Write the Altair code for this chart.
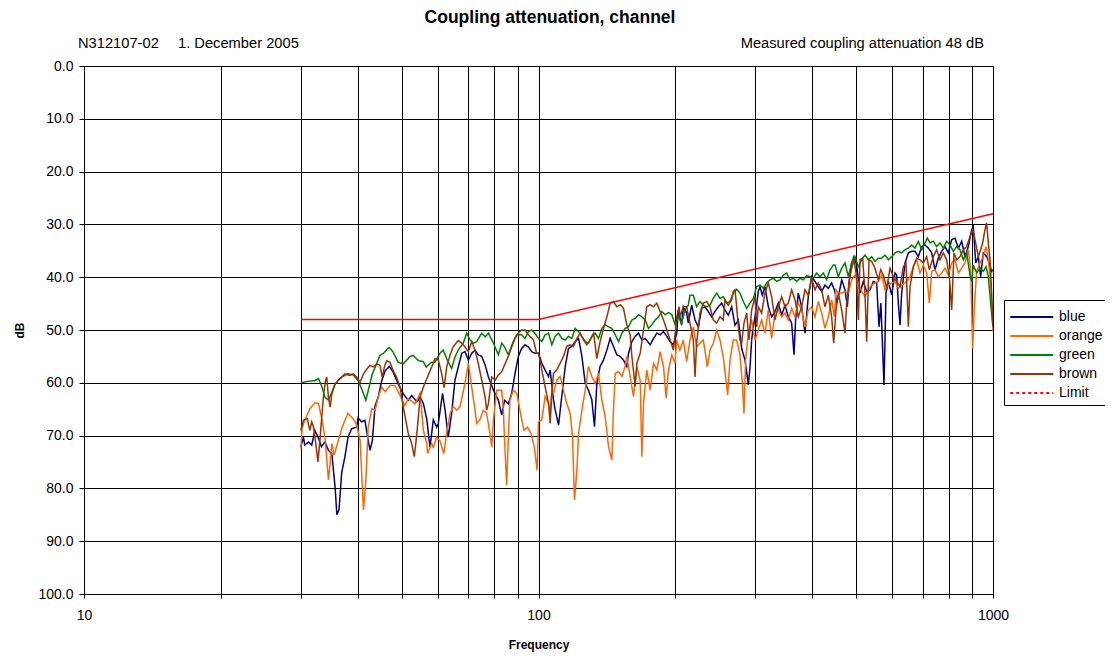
import altair as alt
import pandas as pd

# ---------------- data (frequency MHz, attenuation dB) ----------------
blue = [(30.0,72.1),(30.4,70.3),(30.6,71.8),(31.2,71.2),(31.7,71.8),(32.2,69),(32.8,70.5),(33.3,72.1),(33.9,71.2),(34.5,72.8),
        (35.1,73.4),(35.7,80),(36.0,85),(36.4,84),(36.9,77),(37.5,74),(38.1,70.3),(38.8,68.7),(39.8,68.4),(40.1,66.6),
        (40.8,67.4),(41.5,67.1),(42.2,70.9),(42.6,72.8),(43.1,70.9),(43.7,64.3),(44.4,62.7),(45.2,59.6),(46.0,57.7),(47.0,56.9),
        (47.9,58),(49.1,60.2),(50.4,62.1),(51.7,63.3),(52.6,62.4),(54.0,63.6),(54.9,62.7),(55.8,63.9),(56.8,67),(57.7,72.2),
        (58.7,67),(59.7,68.4),(60.2,67.7),(61.5,62),(62.3,65.2),(63.3,70.3),(64.4,65.8),(65.5,59.5),(66.6,57),(67.8,54.4),
        (68.9,54.1),(70.1,55.7),(71.3,54.4),(72.5,53.8),(73.7,54.7),(75.0,55),(76.3,56.6),(77.6,58.9),(79.6,61.4),(81.6,63.3),
        (83.0,66.1),(84.2,63.3),(85.8,64),(87.3,62),(88.8,58.2),(90.3,55),(91.8,53.5),(93.4,52.8),(95.0,53.2),(96.6,54.1),
        (98.2,54.4),(100.0,54.4),(101.7,56.3),(103.4,57.6),(105.2,58.8),(106.1,57.6),(107.9,63.2),(108.8,65.1),(110.7,68),(112.5,62.6),
        (114.5,56.9),(116.4,53.5),(118.4,53.1),(120.4,52.2),(122.5,51.6),(124.6,55),(126.7,60.1),(128.8,61.4),(131.0,63.2),(132.8,68.3),
        (134.4,60.1),(136.6,56.9),(139.0,55.7),(141.4,53.8),(143.8,51.6),(146.2,53.1),(148.7,54.7),(151.3,55),(153.8,55.7),(156.4,56.9),
        (157.8,54.4),(160.5,52.2),(163.2,51.2),(166.0,50.6),(168.8,51.9),(171.7,51.6),(176.1,52.8),(179.1,51.6),(182.1,50.6),(185.2,50.9),
        (188.4,50.3),(191.6,51.2),(194.8,52.2),(198.1,52.8),(201.5,50.6),(203.0,46.2),(206.5,49.1),(208.3,45.6),(211.8,46.8),(213.6,48.7),
        (217.3,45.3),(221.0,48.1),(224.7,49.4),(228.6,45.9),(232.5,45.6),(236.4,46.5),(240.4,47.5),(244.5,46.5),(248.7,45.6),(252.9,44.9),
        (257.2,46.2),(261.6,47.2),(266.1,45.6),(270.6,49.1),(275.2,48.1),(279.9,53.5),(284.7,55.7),(289.5,60.4),(292.0,57),(294.4,51.9),
        (297.0,49.4),(299.5,47.5),(304.5,42.7),(307.1,41.8),(310.8,43.4),(315.0,41.8),(320.4,45.6),(325.8,47.5),(331.4,46.5),(337.0,44.9),
        (342.8,47.2),(348.6,45.3),(354.5,47.5),(360.6,48.7),(364.9,54.7),(367.9,48.1),(372.9,43),(379.3,45.6),(385.8,50.6),(392.3,43.7),
        (399.0,39.9),(405.8,40.8),(412.7,41.8),(419.8,42.7),(426.9,41.5),(434.2,42.1),(441.6,41.1),(449.1,42.7),(453.0,44.9),(456.8,43.7),
        (464.6,40.5),(472.5,42.4),(478.1,45.6),(483.0,40.5),(488.7,37.3),(494.5,36.1),(501.2,37.7),(509.8,43),(518.4,40.8),(527.3,42.7),
        (536.3,42.4),(545.4,40.8),(554.7,41.1),(561.3,49.4),(566.6,44.9),(575.7,60.4),(581.6,43),(588.5,40.8),(598.5,43.4),(608.7,39.2),
        (613.8,39.6),(619.0,44.9),(624.3,49.1),(629.6,43),(640.3,37.3),(651.2,35.4),(662.4,35.1),(673.6,35.1),(685.1,36.1),(696.8,34.2),
        (708.6,33.9),(720.7,34.5),(733.0,35.4),(745.4,38.6),(758.0,36.4),(771.0,35.1),(784.1,34.2),(797.5,35.4),(811.1,32.9),(824.8,32.6),
        (839.0,34.5),(853.3,33.2),(867.8,36.1),(882.5,34.2),(897.6,31),(905.2,30.4),(916.0,37.3),(928.4,36.1),(939.5,39.9),(952.1,35.4),
        (968.3,36.1),(981.5,37.3),(992.8,38.9),(1000.0,38.6)]

orange = [(30.0,72.5),(30.2,68.5),(30.6,67.1),(31.4,64.9),(32.2,63.8),(32.8,63.9),(33.3,66.5),(33.9,70.3),(34.5,78.4),(34.8,75.3),
          (35.1,71.5),(35.5,73.7),(36.0,71.9),(36.9,68.7),(37.5,67.1),(38.1,65.8),(39.1,66.8),(39.8,68),(40.5,70.9),(40.8,76.5),
          (41.2,84.1),(41.7,78.5),(42.2,68.4),(43.0,64.9),(43.7,65.2),(44.4,62.7),(45.2,60.8),(46.0,61.7),(47.1,60.5),(48.3,60.5),
          (49.6,62.4),(50.8,64.3),(51.7,63),(53.5,64),(54.9,62),(55.8,69),(56.8,71.5),(57.0,73.4),(58.2,71.5),(58.7,72.2),
          (59.7,70.3),(60.7,71),(61.9,73.4),(62.8,69.5),(63.9,65.8),(64.9,64.5),(66.1,65.2),(67.2,64.5),(68.9,60.1),(70.1,56.3),
          (71.3,60.8),(72.5,65.2),(73.1,67.7),(74.3,67),(75.6,65.2),(76.9,65.8),(78.2,69.6),(78.9,72.2),(79.6,67),(80.9,61.4),
          (83.0,61.4),(83.7,65.2),(84.2,70.9),(85.1,79.4),(85.8,70.9),(86.5,63.3),(88.0,61.4),(89.6,62),(91.3,65.8),(92.9,69),
          (94.5,68.4),(96.3,69.6),(97.9,72.2),(99.3,76.6),(100.0,67.4),(101.7,67),(103.4,62.6),(105.2,63.9),(106.1,65.8),(107.0,61.4),
          (107.9,62),(109.7,59.5),(111.6,58.8),(113.5,61.4),(115.4,63.9),(117.4,65.8),(118.8,70.2),(120.0,82.2),(121.5,76.5),(122.5,69.6),
          (124.6,65.1),(126.7,61.4),(128.8,56.9),(131.0,58.8),(133.3,60.1),(135.5,58.2),(137.8,63.2),(140.2,66.4),(142.6,72.1),(145.0,74.6),
          (146.2,65.1),(147.5,58.2),(150.0,57.9),(152.6,58.8),(155.1,56.9),(156.4,55),(159.1,58.8),(161.8,62.6),(164.6,56.9),(167.4,59.5),
          (168.8,74),(170.2,63.9),(173.1,57.6),(176.1,61.4),(179.1,56.3),(182.1,57.6),(185.2,54.1),(188.4,56.9),(190.9,62.9),(193.2,57.6),
          (196.5,54.7),(199.8,56.3),(201.3,51.9),(204.7,53.8),(208.3,51.9),(211.8,56),(215.4,51.9),(219.1,49.4),(222.8,53.2),(226.6,52.5),
          (230.5,51.9),(235.2,57),(238.4,53.8),(242.4,52.5),(246.6,50),(250.8,51.9),(255.0,55.1),(258.5,59.5),(260.7,62.3),(263.8,55.7),
          (268.3,51.9),(272.9,51.9),(277.5,54.7),(280.9,60.1),(283.2,65.8),(285.6,55.7),(289.5,50.6),(294.4,48.1),(299.5,51.9),(304.5,50),
          (309.7,48.1),(315.0,50.6),(320.4,46.2),(325.8,51.6),(331.4,46.8),(337.0,46.2),(342.8,47.5),(348.6,46.8),(354.5,48.1),(360.6,45.9),
          (366.7,47.5),(372.9,44.9),(379.3,46.2),(385.8,49.4),(392.3,46.2),(399.0,45.6),(405.8,47.5),(412.7,44.6),(419.8,46.8),(426.9,49.7),
          (434.2,47.5),(441.6,44.3),(447.6,47.5),(451.4,42.4),(456.8,43),(464.6,43),(472.5,42.7),(480.5,43),(488.7,40.5),(497.0,39.6),
          (505.5,41.1),(514.1,42.7),(522.8,43.7),(531.8,42.4),(540.8,41.5),(550.0,41.1),(559.4,40.8),(569.0,39.6),(578.6,42.4),(588.5,41.5),
          (598.5,41.1),(608.7,40.8),(619.0,42.1),(629.6,41.5),(645.7,40.8),(656.8,39.9),(668.0,38),(679.3,36.7),(690.9,39.2),(702.7,37.7),
          (714.5,39.2),(724.4,44.9),(733.0,38.9),(745.4,38.6),(758.0,39.9),(771.0,39.2),(784.1,38.3),(797.5,39.6),(811.1,37.3),(824.8,36.7),
          (839.0,39.2),(853.3,38.3),(867.8,37.3),(882.5,34.8),(893.1,38.6),(902.2,53.5),(909.7,45.6),(920.5,38.9),(936.4,37.3),(952.1,36.1),
          (965.1,34.2),(976.6,36.7),(988.2,41.1),(1000.0,50.3)]

green = [(30.0,60),(31.2,59.7),(32.2,59.6),(32.8,59.2),(33.3,60.5),(33.9,62.7),(34.5,63.3),(35.7,60.2),(36.9,58.9),(38.1,58.3),
         (39.1,58.5),(40.1,59.6),(40.8,61.1),(41.7,63.3),(43.1,58.3),(44.8,54.8),(45.6,54.4),(46.9,53.3),(47.9,54.2),(49.1,56.1),
         (50.4,56.4),(52.2,55),(53.0,54.8),(54.4,55.8),(55.8,56),(56.6,57),(58.2,56.1),(59.2,56.1),(60.7,54.4),(61.7,53.8),
         (62.8,55.4),(64.4,57.3),(65.5,55.1),(66.6,53.8),(68.3,52.5),(69.5,50.6),(70.7,51.9),(71.9,52.5),(73.1,52.2),(75.0,50.6),
         (76.3,51.3),(77.6,50.6),(79.6,52.5),(81.6,54.7),(83.0,52.5),(84.2,53.2),(85.8,54.7),(88.0,52.2),(89.6,50.9),(91.8,50.9),
         (93.4,51.6),(95.0,50.3),(96.6,50),(98.2,50.6),(100.0,51.6),(101.7,52.2),(103.4,50.9),(105.2,50.6),(107.0,52.8),(108.8,51.2),
         (110.7,50.6),(112.5,51.6),(114.5,51.9),(116.4,51.2),(118.4,51.6),(120.4,49.7),(122.5,50.3),(124.6,51.2),(126.7,52.2),(128.8,52.5),
         (131.0,51.2),(133.3,50.6),(135.5,51.6),(137.8,49.7),(140.2,49),(142.6,49.4),(145.0,49.7),(147.5,50.9),(150.0,52.2),(152.6,50.6),
         (155.1,49.7),(157.8,49.4),(160.5,48.1),(163.2,47.8),(166.0,47.1),(168.8,47.5),(171.7,48.1),(174.6,49.7),(177.6,49),(180.6,48.1),
         (183.7,47.5),(186.8,46.5),(190.0,47.1),(193.2,46.7),(196.5,47.1),(199.8,49),(203.0,47.5),(206.5,48.7),(210.1,46.2),(213.6,45.3),
         (215.4,43.4),(219.1,43.4),(222.8,45.6),(226.6,44.6),(230.5,45.3),(234.4,45.6),(238.4,45.3),(242.4,44),(246.6,43),(250.8,44),
         (255.0,43.7),(259.4,44.9),(263.8,44.6),(268.3,43),(272.9,42.3),(277.5,43),(282.3,44.6),(287.1,45.9),(292.0,44.9),(297.0,44),
         (302.0,41.8),(307.1,41.5),(312.3,42.1),(317.7,41.1),(323.1,40.5),(328.6,40.2),(334.2,40.8),(339.9,40.5),(345.7,39.6),(351.5,39.2),
         (357.5,40.5),(363.6,40.2),(369.8,40.8),(376.1,40.2),(382.5,40.5),(389.0,39.7),(395.6,39.9),(402.4,40.2),(409.2,39.2),(416.2,39.9),
         (423.3,39.2),(430.5,40.5),(437.9,38.6),(445.3,37.7),(449.1,37.7),(456.8,39.9),(464.6,38.3),(472.5,37.3),(480.5,39.9),(488.7,37.3),
         (497.0,36.1),(505.5,38),(514.1,36.7),(522.8,35.8),(531.8,36.7),(540.8,36.1),(550.0,37),(559.4,36.4),(569.0,36.4),(578.6,35.8),
         (588.5,36.7),(598.5,36.1),(608.7,35.4),(619.0,35.1),(629.6,35.4),(640.3,34.8),(651.2,34.5),(662.4,33.9),(673.6,34.5),(685.1,33.2),
         (696.8,34.8),(708.6,33.5),(717.0,32.6),(726.9,33.5),(739.2,33.2),(751.6,34.2),(764.5,33.5),(777.5,34.5),(790.7,33.2),(804.3,33.9),
         (817.9,35.1),(831.8,34.2),(846.1,34.8),(860.5,36.7),(875.0,35.4),(890.1,39.6),(897.6,40.8),(905.2,37.7),(920.5,39.2),(936.4,38.3),
         (952.1,38.9),(965.1,38),(976.6,39.9),(988.2,44.9),(1000.0,49.4)]

brown = [(30.0,69),(30.4,67.1),(31.0,66.8),(31.4,69),(31.7,67.4),(32.0,68.4),(32.5,72.8),(32.7,75),(33.0,71.5),(33.4,65.8),
         (33.7,61.8),(34.0,59.6),(34.2,58.9),(34.5,62.7),(34.8,64.6),(35.1,62.1),(35.7,60.2),(36.2,59.6),(36.9,58.9),(37.5,58.3),
         (38.4,58.6),(39.1,58.3),(39.8,58.9),(40.5,59.9),(41.2,58.3),(41.9,57.4),(42.6,56.7),(43.3,57),(44.1,56.4),(44.8,56.7),
         (45.3,58.9),(45.9,56.7),(46.4,55.8),(47.1,56.1),(47.9,57.7),(48.7,58.9),(49.6,60.8),(50.4,64.6),(51.7,69.6),(52.6,71.5),
         (53.3,74),(54.0,69.6),(54.9,62.7),(55.8,60.8),(56.8,59.2),(58.2,57),(59.2,55.4),(60.2,55.7),(61.2,58.2),(62.0,60.9),
         (62.8,57),(63.9,54.7),(64.9,53.2),(66.6,52),(67.8,52.5),(68.9,53.2),(70.1,54.1),(71.3,52.2),(72.5,53.8),(73.7,56.3),
         (75.0,59.5),(76.3,62.7),(76.9,65.2),(77.6,63.9),(78.9,58.9),(80.3,59.5),(81.6,58.5),(83.0,57.9),(84.2,56.6),(85.8,55),
         (87.3,53.2),(88.8,51.6),(90.3,50.6),(91.8,50),(93.4,50),(95.0,50.9),(97.5,51.9),(99.0,54.4),(100.0,54.4),(101.7,57.6),
         (103.4,60.7),(105.2,63.9),(106.1,67.7),(107.0,62),(107.9,58.2),(109.7,57.6),(111.6,56.3),(113.5,55),(115.4,53.1),(117.4,52.8),
         (119.4,53.1),(121.5,51.6),(123.5,50.6),(125.6,51.9),(127.7,52.8),(129.9,51.9),(132.2,50.6),(134.4,55.4),(136.6,52.2),(139.0,49.7),
         (141.4,47.5),(143.8,44.9),(146.2,44.6),(148.7,45.6),(151.3,45.2),(153.8,45.9),(156.4,49),(159.1,50.9),(160.5,55),(163.2,60.7),
         (164.6,56.3),(167.4,54.4),(170.2,50),(173.1,45.6),(176.1,45.2),(179.1,45.6),(182.1,44.9),(185.2,46.5),(188.4,48.1),(191.6,50),
         (194.8,51.9),(198.1,53.8),(201.5,47.5),(203.9,45.6),(204.7,47.5),(208.3,45.6),(211.8,45.6),(215.4,48.7),(219.1,51.9),(221.0,58.9),
         (222.8,52.5),(226.6,46.8),(230.5,44.9),(234.4,44.6),(238.4,45.6),(242.4,48.1),(246.6,48.7),(250.8,47.5),(255.0,48.1),(257.2,44.3),
         (261.6,45.3),(266.1,44.3),(268.3,42.7),(270.6,42.4),(272.9,45.6),(275.2,49.4),(277.5,51.9),(279.9,52.5),(283.2,48.7),(287.1,46.8),
         (290.5,51.9),(294.4,46.2),(299.5,43.7),(302.0,49.4),(304.5,45.6),(309.7,46.8),(315.0,43),(320.4,41.1),(325.8,43.7),(331.4,48.1),
         (337.0,45.6),(342.8,43.7),(348.6,45.6),(354.5,44.9),(360.6,42.4),(366.7,44.3),(372.9,47.5),(379.3,45.6),(385.8,42.4),(392.3,43.4),
         (399.0,40.2),(405.8,42.4),(412.7,41.1),(419.8,42.4),(426.9,45.6),(434.2,43.4),(441.6,47.5),(446.1,52.5),(451.4,46.2),(456.8,43),
         (464.6,46.2),(472.5,50.6),(476.5,44.9),(483.0,40.5),(488.7,38.3),(494.5,36.7),(501.2,39.9),(505.5,48.1),(509.8,36.7),(516.7,36.4),
         (522.8,43),(527.3,52.2),(533.6,36.7),(540.8,37),(550.0,38.3),(559.4,40.5),(566.1,38.6),(573.8,39.6),(583.5,42.1),(593.5,38.3),
         (603.6,39.9),(613.8,40.8),(624.3,41.8),(634.9,38),(643.5,37.3),(651.2,49.4),(656.8,41.8),(668.0,38),(679.3,36.4),(690.9,36.7),
         (702.7,37.3),(714.5,36.1),(724.4,38.6),(739.2,36.1),(751.6,34.8),(764.5,36.7),(777.5,35.4),(790.7,36.7),(801.6,39.9),(811.1,46.2),
         (820.7,35.4),(831.8,36.7),(846.1,36.1),(860.5,34.8),(875.0,34.2),(890.1,32.3),(902.2,31),(912.9,32.9),(928.4,36.1),(939.5,34.8),
         (949.0,33.5),(960.2,31),(968.3,29.7),(976.6,33.5),(984.9,36.7),(993.2,43),(1000.0,49.4)]

limit_freq = [30, 100, 1000]
limit_db = [48, 48, 28]

series_names = ["blue", "orange", "green", "brown", "Limit"]
series_colors = ["#000080", "#FF6600", "#008000", "#993300", "#FF0000"]
series_dash = [[1, 0], [1, 0], [1, 0], [1, 0], [3, 3]]

x_grid_values = [10, 20, 30, 40, 50, 60, 70, 80, 90, 100, 200, 300, 400, 500, 600, 700, 800, 900, 1000]
y_tick_values = [0, 10, 20, 30, 40, 50, 60, 70, 80, 90, 100]

title_text = "Coupling attenuation, channel"
header_left_1 = "N312107-02"
header_left_2 = "1. December 2005"
header_right = "Measured coupling attenuation 48 dB"
x_title = "Frequency"
y_title = "dB"

FONT = "Liberation Sans"

# ---------------- build tables ----------------
rows = []
for name, pts in [("blue", blue), ("orange", orange), ("green", green), ("brown", brown)]:
    for f, v in pts:
        rows.append({"series": name, "freq": f, "db": v})
df = pd.DataFrame(rows)
limit_df = pd.DataFrame({"freq": limit_freq, "db": limit_db})

W, H = 909, 528

x_scale = alt.Scale(type="log", domain=[10, 1000], nice=False)
y_scale = alt.Scale(domain=[0, 100], reverse=True, nice=False)

x_axis = alt.Axis(values=x_grid_values,
                  labelExpr="indexof([10, 100, 1000], datum.value) >= 0 ? datum.label : ''",
                  grid=True, gridColor="#000000", gridOpacity=1, gridWidth=1,
                  domainColor="#000000", tickColor="#000000", tickSize=4,
                  labelFont=FONT, labelFontSize=14, labelColor="#000000", labelPadding=10,
                  titleFont=FONT, titleFontSize=12, titleFontWeight="bold", titleColor="#000000",
                  titlePadding=17, format="d", labelFlush=False, labelOverlap=False)
y_axis = alt.Axis(values=y_tick_values, format=".1f",
                  grid=True, gridColor="#000000", gridOpacity=1, gridWidth=1,
                  domainColor="#000000", tickColor="#000000", tickSize=5,
                  labelFont=FONT, labelFontSize=14, labelColor="#000000", labelPadding=6,
                  titleFont=FONT, titleFontSize=12, titleFontWeight="bold", titleColor="#000000",
                  titlePadding=11)

lines = alt.Chart(df).mark_line(strokeWidth=1.5, clip=True).encode(
    x=alt.X("freq:Q", scale=x_scale, axis=x_axis, title=x_title),
    y=alt.Y("db:Q", scale=y_scale, axis=y_axis, title=y_title),
    color=alt.Color("series:N",
                    scale=alt.Scale(domain=series_names, range=series_colors),
                    legend=alt.Legend(title=None, orient="none", legendX=920, legendY=234,
                                      strokeColor="#000000", fillColor="#FFFFFF", padding=5,
                                      symbolType="M-1,0H3", symbolSize=462, symbolStrokeWidth=2,
                                      labelFont=FONT, labelFontSize=14, labelColor="#000000",
                                      rowPadding=0, labelOffset=26, cornerRadius=0)),
    strokeDash=alt.StrokeDash("series:N",
                              scale=alt.Scale(domain=series_names, range=series_dash),
                              legend=alt.Legend(title=None, orient="none", legendX=920, legendY=234)),
    detail="series:N",
)

limit_line = alt.Chart(limit_df).mark_line(color="#FF0000", strokeWidth=1.5).encode(
    x=alt.X("freq:Q", scale=x_scale),
    y=alt.Y("db:Q", scale=y_scale),
)

one = pd.DataFrame({"k": [0]})
txt_style = dict(font=FONT, fontSize=14.7, color="#000000", baseline="alphabetic")
h1 = alt.Chart(one).mark_text(align="left", **txt_style).encode(
    x=alt.value(-6), y=alt.value(-18), text=alt.value(header_left_1))
h2 = alt.Chart(one).mark_text(align="left", **txt_style).encode(
    x=alt.value(94), y=alt.value(-18), text=alt.value(header_left_2))
h3 = alt.Chart(one).mark_text(align="right", **txt_style).encode(
    x=alt.value(900), y=alt.value(-18), text=alt.value(header_right))
ttl = alt.Chart(one).mark_text(align="center", font=FONT, fontSize=17.5, fontWeight="bold",
                               color="#000000", baseline="alphabetic").encode(
    x=alt.value(466), y=alt.value(-43), text=alt.value(title_text))

chart = alt.layer(lines, limit_line, h1, h2, h3, ttl).properties(
    width=W, height=H,
    autosize=alt.AutoSizeParams(type="none"),
    padding={"left": 76, "top": 58, "right": 112, "bottom": 60},
).configure_view(stroke="#808080", strokeWidth=1).configure(background="#FFFFFF")

chart.save("out.html", embed_options={"renderer": "svg", "actions": False})
